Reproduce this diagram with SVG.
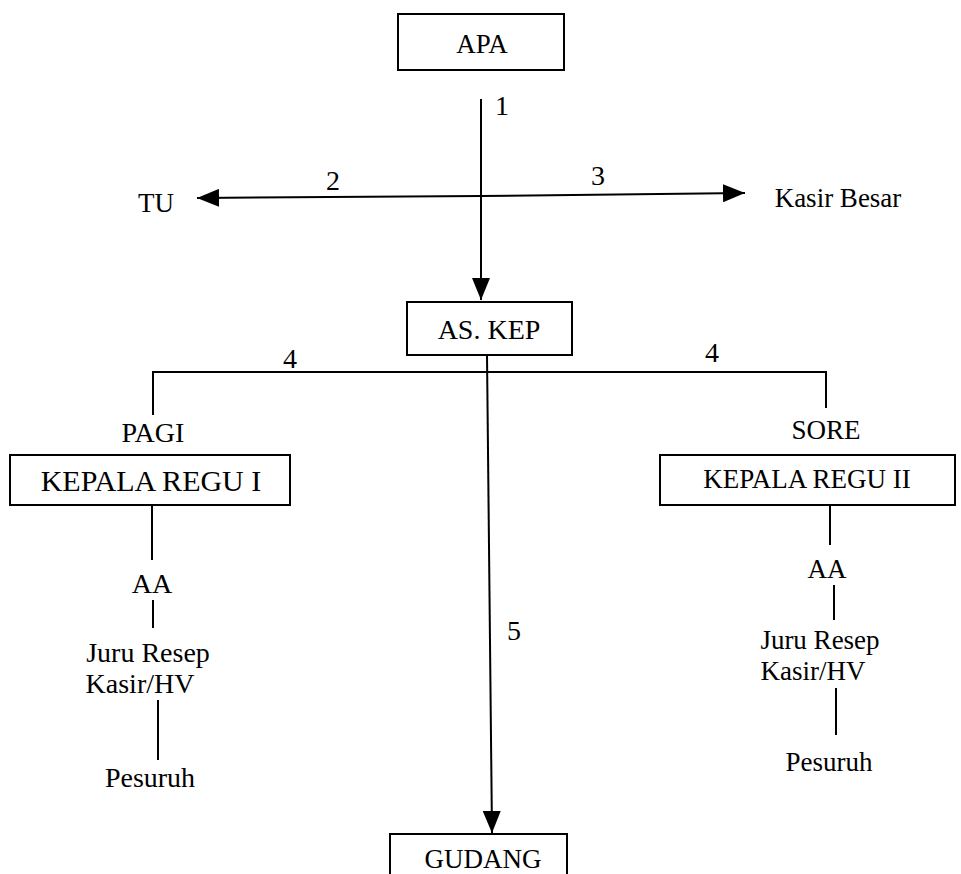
<svg xmlns="http://www.w3.org/2000/svg" width="961" height="874" viewBox="0 0 961 874">
<style>
text{font-family:"Liberation Serif","Times New Roman",serif;font-size:28px;fill:#000;text-anchor:middle}
.s27{font-size:27px}
.s30{font-size:30px}
.box{fill:#fff;stroke:#000;stroke-width:2}
.ln{stroke:#000;stroke-width:2;fill:none}
</style>
<defs>
<marker id="ah" viewBox="0 0 22 18" refX="22" refY="9" markerWidth="22" markerHeight="18" markerUnits="userSpaceOnUse" orient="auto">
<path d="M0,0 L22,9 L0,18 Z" fill="#000"/>
</marker>
</defs>
<rect width="961" height="874" fill="#fff"/>
<g id="connectors">
<line class="ln" x1="481" y1="99" x2="481" y2="300" marker-end="url(#ah)"/>
<line class="ln" x1="481" y1="196" x2="197" y2="198" stroke-width="2.5" marker-end="url(#ah)"/>
<line class="ln" x1="481" y1="196" x2="745" y2="193" stroke-width="2.5" marker-end="url(#ah)"/>
<polyline class="ln" points="153,415 153,372 826,372 826,408"/>
<line class="ln" x1="487" y1="355" x2="492" y2="833" marker-end="url(#ah)"/>
<line class="ln" x1="152" y1="505" x2="152" y2="560"/>
<line class="ln" x1="153" y1="600" x2="153" y2="628"/>
<line class="ln" x1="158" y1="700" x2="158" y2="760"/>
<line class="ln" x1="830" y1="505" x2="830" y2="545"/>
<line class="ln" x1="834" y1="585" x2="834" y2="620"/>
<line class="ln" x1="836" y1="688" x2="836" y2="735"/>
<text x="502" y="115">1</text>
<text x="333" y="190">2</text>
<text x="598" y="185">3</text>
<text x="290" y="368">4</text>
<text x="712" y="362">4</text>
<text x="514" y="640">5</text>
</g>
<g id="apa"><rect class="box" x="398" y="14" width="166" height="56"/><text class="s27" x="482" y="53">APA</text></g>
<g id="tu"><text class="s27" x="156" y="212">TU</text></g>
<g id="kasir-besar"><text class="s27" x="838" y="207">Kasir Besar</text></g>
<g id="as-kep"><rect class="box" x="407" y="302" width="165" height="53"/><text x="489" y="339">AS. KEP</text></g>
<g id="pagi"><text x="153" y="442">PAGI</text></g>
<g id="kepala-regu-1"><rect class="box" x="10" y="455" width="280" height="50"/><text class="s30" x="151" y="491">KEPALA REGU I</text></g>
<g id="aa-1"><text x="152" y="593">AA</text></g>
<g id="juru-1"><text x="148" y="662">Juru Resep</text><text x="140" y="693">Kasir/HV</text></g>
<g id="pesuruh-1"><text x="150" y="787">Pesuruh</text></g>
<g id="sore"><text class="s27" x="826" y="439">SORE</text></g>
<g id="kepala-regu-2"><rect class="box" x="660" y="455" width="295" height="50"/><text class="s27" x="807" y="488">KEPALA REGU II</text></g>
<g id="aa-2"><text class="s27" x="827" y="578">AA</text></g>
<g id="juru-2"><text class="s27" x="820" y="649">Juru Resep</text><text class="s27" x="813" y="680">Kasir/HV</text></g>
<g id="pesuruh-2"><text class="s27" x="829" y="771">Pesuruh</text></g>
<g id="gudang"><rect class="box" x="390" y="834" width="177" height="50"/><text class="s27" x="483" y="868">GUDANG</text></g>
</svg>
